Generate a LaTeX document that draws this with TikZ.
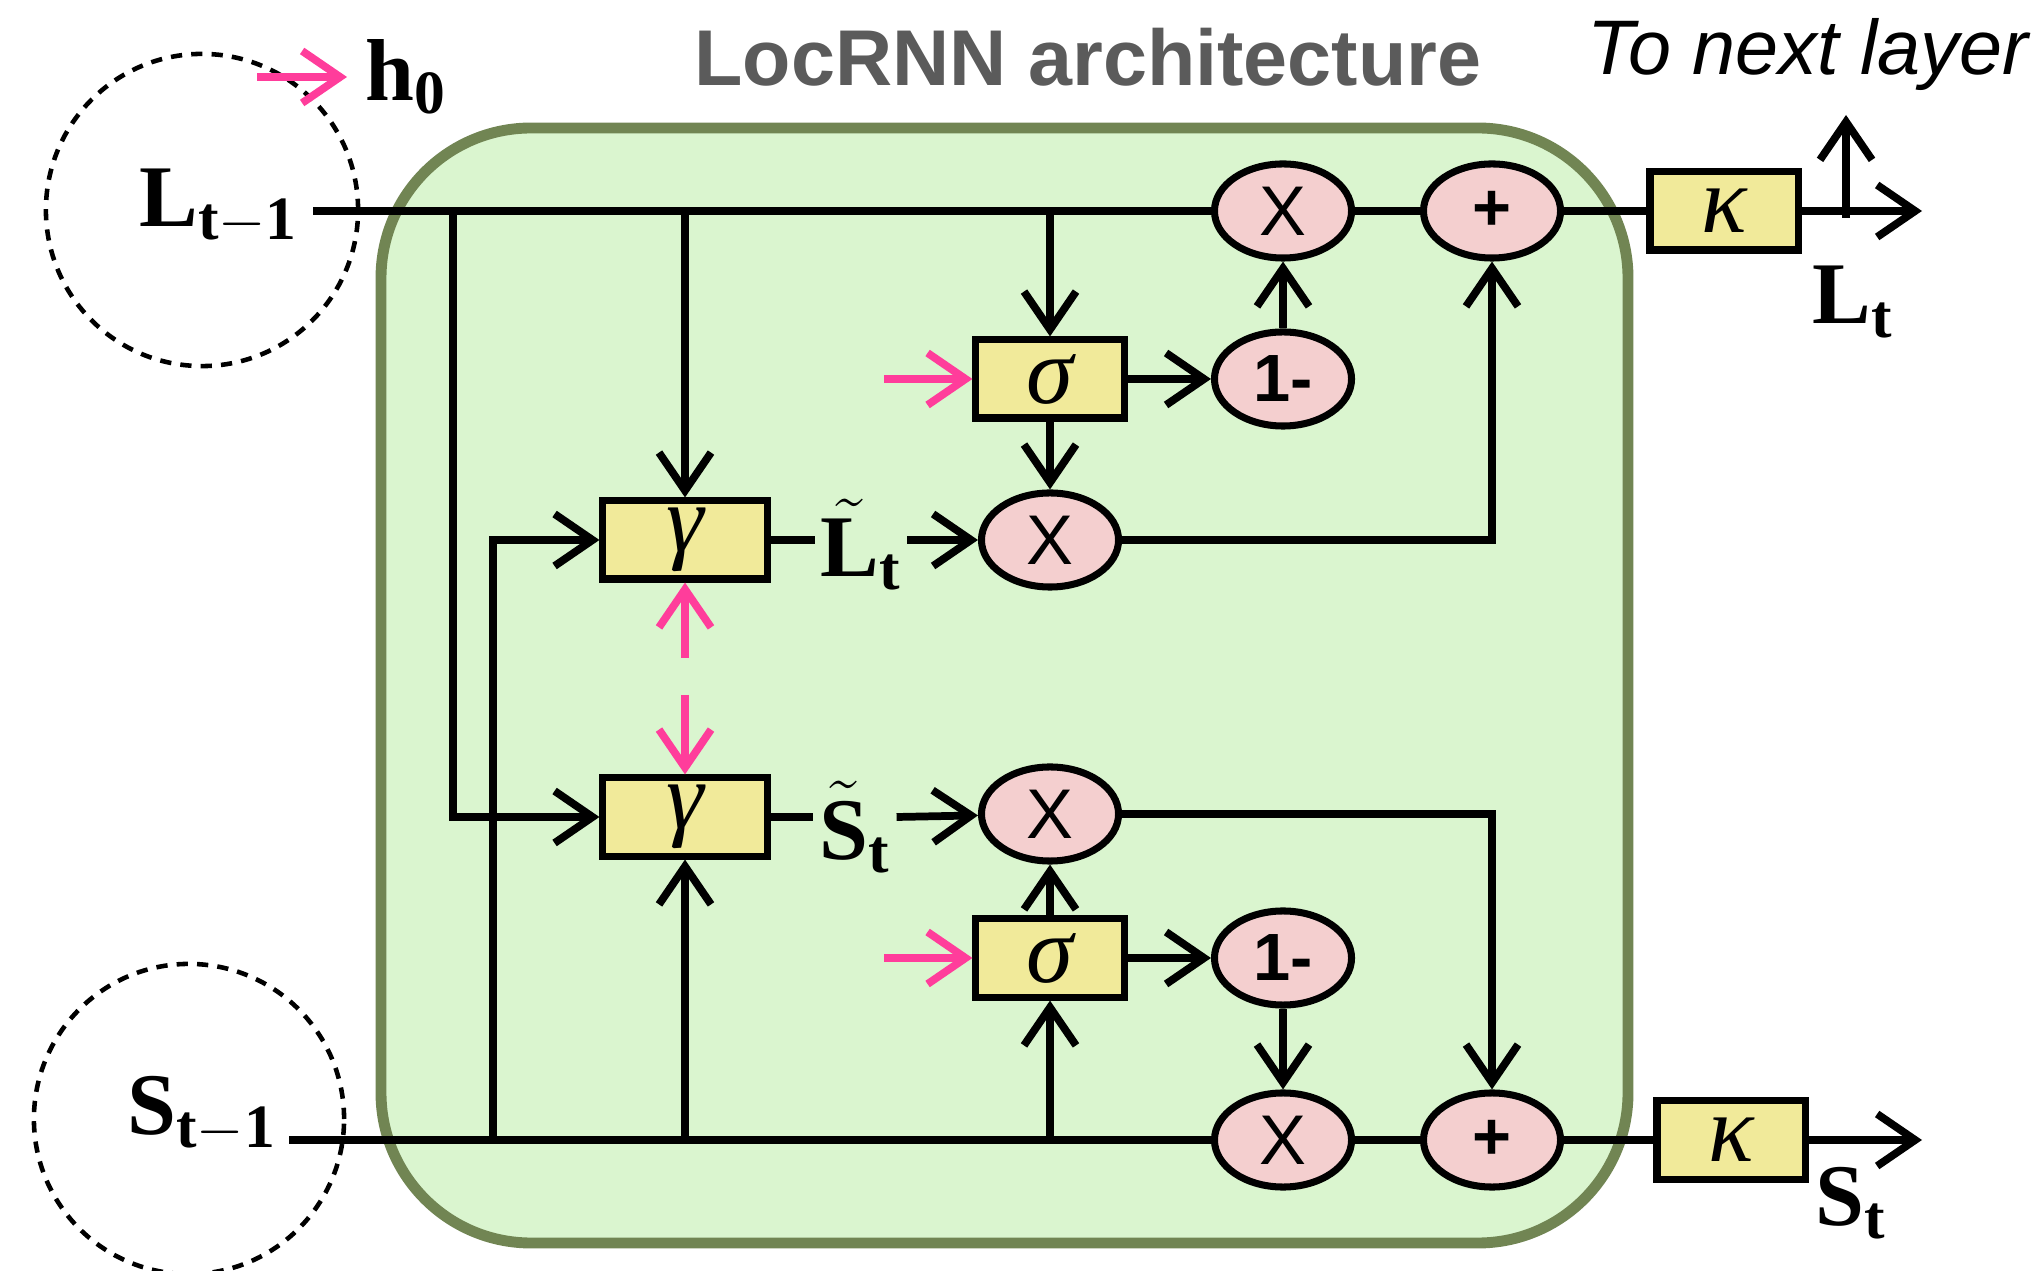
\documentclass[tikz,border=0pt]{standalone}
\usepackage{fontspec}
\setmainfont{Liberation Serif}
\setsansfont{Liberation Sans}
\usepackage{tikz}
\usetikzlibrary{arrows.meta,shapes.geometric,calc}
\definecolor{cellgreen}{RGB}{218,245,207}
\definecolor{cellborder}{RGB}{113,133,83}
\definecolor{gateyellow}{RGB}{241,234,154}
\definecolor{oppink}{RGB}{244,207,207}
\definecolor{inpink}{RGB}{255,61,155}
\definecolor{titlegray}{RGB}{91,91,91}

\begin{document}
\begin{tikzpicture}[x=0.01cm,y=-0.01cm,
    wire/.style={line width=2.2pt},
    arr/.style={wire,-{Straight Barb[length=0.38cm,width=0.52cm]}},
    pinkarr/.style={arr,inpink},
    gatebox/.style={draw,line width=2pt,fill=gateyellow,minimum width=1.48cm,
      minimum height=0.78cm,inner sep=0pt,font=\itshape\fontsize{27}{30}\selectfont},
    opnode/.style={ellipse,draw,line width=2pt,fill=oppink,minimum width=1.37cm,
      minimum height=0.94cm,inner sep=0pt},
    mulsign/.style={opnode,font=\sffamily\fontsize{20}{24}\selectfont},
    boldsign/.style={opnode,font=\sffamily\bfseries\fontsize{19}{22}\selectfont},
    statelbl/.style={inner sep=1.5pt,font=\fontsize{25}{30}\selectfont},
    loopring/.style={line width=1.3pt,dash pattern=on 3.2pt off 2.6pt}]
        \useasboundingbox (0,0) rectangle (2043,1271);
        % cell
        \draw[line width=3.1pt,draw=cellborder,fill=cellgreen,rounded corners=1.5cm]
          (381,128) rectangle (1628,1243);
        \draw[loopring] (202,210) circle[radius=1.56cm];
        \draw[loopring] (189,1119) circle[radius=1.55cm];
        \node[font=\sffamily\bfseries\fontsize{22.5}{27}\selectfont,text=titlegray]
          (title) at (1088,57) {LocRNN architecture};
        \node[font=\sffamily\itshape\fontsize{22}{26}\selectfont]
          (nextlbl) at (1808,55) {To next layer};
        % states
        \node[statelbl] (Lprev) at (219,207) {$\mathbf{L}_{\mathbf{t-1}}$};
        \node[statelbl] (Sprev) at (202,1114) {$\mathbf{S}_{\mathbf{t-1}}$};
        \node[statelbl] (Lnext) at (1853,302) {$\mathbf{L}_{\mathbf{t}}$};
        \node[statelbl] (Snext) at (1851,1203) {$\mathbf{S}_{\mathbf{t}}$};
        \node[statelbl,anchor=west,inner sep=0.18cm] (hzero) at (347,77) {$\mathbf{h}_{\mathbf{0}}$};
        \node[statelbl] (tildeL) at (861,545) {$\tilde{\mathbf{L}}_{\mathbf{t}}$};
        \node[statelbl] (tildeS) at (855,827) {$\tilde{\mathbf{S}}_{\mathbf{t}}$};
        % gates
        \node[gatebox,minimum width=1.64cm] (gamL) at (685,540) {γ};
        \node[gatebox,minimum width=1.64cm] (gamS) at (685,817) {γ};
        \node[gatebox] (sigL) at (1050,379) {σ};
        \node[gatebox] (sigS) at (1050,958) {σ};
        \node[gatebox] (kapL) at (1724,211) {κ};
        \node[gatebox] (kapS) at (1731,1140) {κ};
        % pointwise ops
        \node[mulsign] (mulL) at (1283,211) {X};
        \node[boldsign] (addL) at (1492,211) {+};
        \node[boldsign] (oneL) at (1283,379) {1-};
        \node[mulsign] (mulLt) at (1050,540) {X};
        \node[mulsign] (mulSt) at (1050,814) {X};
        \node[boldsign] (oneS) at (1283,958) {1-};
        \node[mulsign] (mulS) at (1283,1140) {X};
        \node[boldsign] (addS) at (1492,1140) {+};
        % wire ends
        \coordinate (Lin) at (313,211);
        \coordinate (Sin) at (289,1140);
        \coordinate (Lout) at (1922,211);
        \coordinate (Sout) at (1922,1140);
        \coordinate (Lsplit) at (1846,218);
        \coordinate (Lup) at (1846,115);
        \coordinate (tapL) at (453,211);
        \coordinate (tapS) at (493,1140);
        \coordinate (hstart) at (257,77);
        \coordinate (sigLin) at ($(sigL.west)+(-88,0)$);
        \coordinate (sigSin) at ($(sigS.west)+(-88,0)$);
        \coordinate (gamLpin) at (685,658);
        \coordinate (gamSpin) at (685,695);
        % long-range state
        \draw[wire] (Lin) -- (mulL);
        \draw[wire] (mulL) -- (addL);
        \draw[wire] (addL) -- (kapL);
        \draw[arr] (kapL) -- (Lout);
        \draw[arr] (Lsplit) -- (Lup);
        \draw[arr] (tapL) |- (gamS);
        \draw[arr] (gamL.north |- Lin) -- (gamL);
        \draw[arr] (sigL.north |- Lin) -- (sigL);
        \draw[arr] (sigL) -- (mulLt);
        \draw[arr] (sigL) -- (oneL);
        \draw[arr] (oneL) -- (mulL);
        \draw[wire] (gamL.east) -- (gamL.east -| tildeL.west);
        \draw[arr] (gamL.east -| tildeL.east) -- (mulLt);
        \draw[arr] (mulLt) -| (addL);
        % short-range state
        \draw[wire] (Sin) -- (mulS);
        \draw[wire] (mulS) -- (addS);
        \draw[wire] (addS) -- (kapS);
        \draw[arr] (kapS) -- (Sout);
        \draw[arr] (tapS) |- (gamL);
        \draw[arr] (gamS.south |- Sin) -- (gamS);
        \draw[arr] (sigS.south |- Sin) -- (sigS);
        \draw[arr] (sigS) -- (mulSt);
        \draw[arr] (sigS) -- (oneS);
        \draw[arr] (oneS) -- (mulS);
        \draw[wire] (gamS.east) -- (gamS.east -| tildeS.west);
        \draw[arr] (gamS.east -| tildeS.east) -- (mulSt);
        \draw[arr] (mulSt) -| (addS);
        % inputs
        \draw[pinkarr] (hstart) -- (hzero);
        \draw[pinkarr] (sigLin) -- (sigL);
        \draw[pinkarr] (sigSin) -- (sigS);
        \draw[pinkarr] (gamLpin) -- (gamL);
        \draw[pinkarr] (gamSpin) -- (gamS);
      \end{tikzpicture}
\end{document}
